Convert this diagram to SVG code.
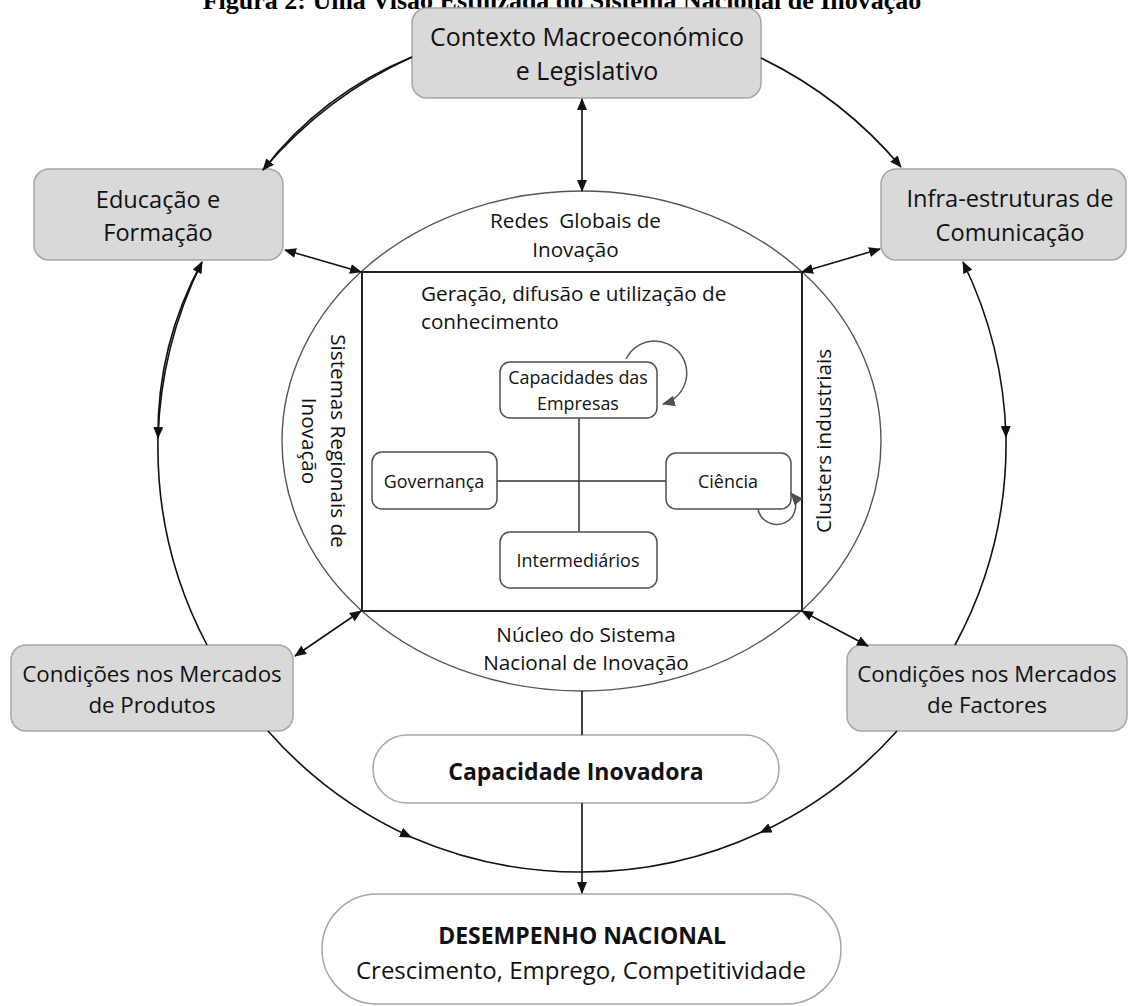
<svg xmlns="http://www.w3.org/2000/svg" width="1128" height="1006" viewBox="0 0 1128 1006">
<defs>
<style>
.gbox{fill:#d9d9d9;stroke:#a6a6a6;stroke-width:1.5}
.cap{fill:#fff;stroke:#a6a6a6;stroke-width:1.5}
.sbox{fill:#fff;stroke:#505050;stroke-width:1.5}
.t{font-family:"Open Sans",sans-serif;fill:#111;text-anchor:middle}
.conn{fill:none;stroke:#111;stroke-width:1.6}
.loop{fill:none;stroke:#555;stroke-width:1.5}
.ln{fill:none;stroke:#333;stroke-width:1.5}
</style>
<marker id="ah" viewBox="0 0 12 10" refX="11" refY="5" markerWidth="12" markerHeight="10" markerUnits="userSpaceOnUse" orient="auto-start-reverse"><path d="M0,0 L12,5 L0,10 z" fill="#111"/></marker>
<marker id="ahg" viewBox="0 0 12 10" refX="11" refY="5" markerWidth="13" markerHeight="11" markerUnits="userSpaceOnUse" orient="auto"><path d="M0,0 L12,5 L0,10 z" fill="#505050"/></marker>
</defs>
<rect width="1128" height="1006" fill="#fff"/>
<text x="562" y="9" style="font-family:'Liberation Serif',serif;font-weight:bold;font-size:26px;text-anchor:middle;fill:#000">Figura 2: Uma Visão Estilizada do Sistema Nacional de Inovação</text>

<g id="nucleo">
<ellipse cx="581.5" cy="441" rx="299.5" ry="250" fill="none" stroke="#555" stroke-width="1.4"/>
<rect x="362" y="272" width="440" height="339" fill="none" stroke="#222" stroke-width="2"/>
<text class="t" style="font-size:20.7px" xml:space="preserve"><tspan x="575.5" y="228">Redes  Globais de</tspan><tspan x="575.5" y="257">Inovação</tspan></text>
<text class="t" style="font-size:20.7px;text-anchor:start"><tspan x="421" y="301">Geração, difusão e utilização de</tspan><tspan x="421" y="329">conhecimento</tspan></text>
<text class="t" style="font-size:20.7px" transform="translate(331,441) rotate(90)"><tspan x="0" y="0">Sistemas Regionais de</tspan><tspan x="0" y="29">Inovação</tspan></text>
<text class="t" style="font-size:20.7px" transform="translate(831,441) rotate(-90)">Clusters industriais</text>
<text class="t" style="font-size:20.7px"><tspan x="586" y="642">Núcleo do Sistema</tspan><tspan x="586" y="670">Nacional de Inovação</tspan></text>
</g>

<g id="cross">
<line class="ln" x1="579" y1="418" x2="579" y2="532"/>
<line class="ln" x1="497" y1="481" x2="666" y2="481"/>
</g>

<g id="capacidades">
<rect class="sbox" x="500" y="362" width="157" height="56" rx="10"/>
<text class="t" style="font-size:17.9px"><tspan x="578" y="384">Capacidades das</tspan><tspan x="578" y="410">Empresas</tspan></text>
<path class="loop" d="M626 359 A32 32 0 1 1 663 404" marker-end="url(#ahg)"/>
</g>
<g id="governanca">
<rect class="sbox" x="372" y="452" width="125" height="57" rx="10"/>
<text class="t" x="434" y="488" style="font-size:17.9px">Governança</text>
</g>
<g id="ciencia">
<rect class="sbox" x="666" y="453" width="125" height="56" rx="10"/>
<text class="t" x="728" y="488" style="font-size:17.9px">Ciência</text>
<path class="loop" d="M758 509 A19 19 0 1 0 791 493" marker-end="url(#ahg)"/>
</g>
<g id="intermediarios">
<rect class="sbox" x="500" y="532" width="157" height="56" rx="10"/>
<text class="t" x="578" y="567" style="font-size:17.9px">Intermediários</text>
</g>

<g id="contexto">
<rect class="gbox" x="412" y="8" width="349" height="90" rx="15"/>
<text class="t" style="font-size:25px"><tspan x="587" y="46">Contexto Macroeconómico</tspan><tspan x="587" y="80">e Legislativo</tspan></text>
</g>
<g id="educacao">
<rect class="gbox" x="34" y="169" width="249" height="91" rx="15"/>
<text class="t" style="font-size:23.6px"><tspan x="158" y="208">Educação e</tspan><tspan x="158" y="241">Formação</tspan></text>
</g>
<g id="infra">
<rect class="gbox" x="881" y="169" width="245" height="91" rx="15"/>
<text class="t" style="font-size:23.6px"><tspan x="1010" y="207">Infra-estruturas de</tspan><tspan x="1010" y="241">Comunicação</tspan></text>
</g>
<g id="produtos">
<rect class="gbox" x="11" y="645" width="282" height="86" rx="15"/>
<text class="t" style="font-size:22.3px"><tspan x="152" y="682">Condições nos Mercados</tspan><tspan x="152" y="713">de Produtos</tspan></text>
</g>
<g id="factores">
<rect class="gbox" x="847" y="645" width="280" height="86" rx="15"/>
<text class="t" style="font-size:22.3px"><tspan x="987" y="682">Condições nos Mercados</tspan><tspan x="987" y="713">de Factores</tspan></text>
</g>
<g id="capacidade-inovadora">
<rect class="cap" x="373" y="735" width="406" height="68" rx="34"/>
<text class="t" x="576" y="780" style="font-size:23px;font-weight:bold">Capacidade Inovadora</text>
</g>
<g id="desempenho">
<rect class="cap" x="322" y="894" width="519" height="110" rx="55"/>
<text class="t" x="582" y="944" style="font-size:23px;font-weight:bold">DESEMPENHO NACIONAL</text>
<text class="t" x="581" y="979" style="font-size:24px">Crescimento, Emprego, Competitividade</text>
</g>

<g id="connectors">
<path class="conn" d="M412 57 A424 424 0 0 0 263 170" marker-end="url(#ah)"/>
<path class="conn" d="M412 57 A360 360 0 0 0 263 170" stroke-width="1.1"/>
<path class="conn" d="M761 58 A424 424 0 0 1 901 167" marker-end="url(#ah)"/>
<path class="conn" d="M202 262 A424 424 0 0 0 158 438" marker-start="url(#ah)" marker-end="url(#ah)"/>
<path class="conn" d="M202 262 A360 360 0 0 0 158 438" stroke-width="1.1"/>
<path class="conn" d="M158 438 A424 424 0 0 0 207 645"/>
<path class="conn" d="M963 262 A424 424 0 0 1 1006 437" marker-start="url(#ah)" marker-end="url(#ah)"/>
<path class="conn" d="M1006 437 A424 424 0 0 1 955 645"/>
<path class="conn" d="M268 731 A424 424 0 0 0 411 837" marker-end="url(#ah)"/>
<path class="conn" d="M411 837 A424 424 0 0 0 582 872"/>
<path class="conn" d="M897 731 A424 424 0 0 1 760.5 832.5" marker-end="url(#ah)"/>
<path class="conn" d="M760.5 832.5 A424 424 0 0 1 582 872"/>
<line class="conn" x1="582" y1="99" x2="582" y2="191" marker-start="url(#ah)" marker-end="url(#ah)"/>
<line class="conn" x1="285" y1="250" x2="361" y2="272" marker-start="url(#ah)" marker-end="url(#ah)"/>
<line class="conn" x1="880" y1="249" x2="802" y2="272" marker-start="url(#ah)" marker-end="url(#ah)"/>
<line class="conn" x1="295" y1="656" x2="361" y2="611" marker-start="url(#ah)" marker-end="url(#ah)"/>
<line class="conn" x1="868" y1="646" x2="802" y2="611" marker-start="url(#ah)" marker-end="url(#ah)"/>
<line class="conn" x1="582" y1="691" x2="582" y2="735"/>
<line class="conn" x1="582" y1="803" x2="582" y2="893" marker-end="url(#ah)"/>
</g>
</svg>
